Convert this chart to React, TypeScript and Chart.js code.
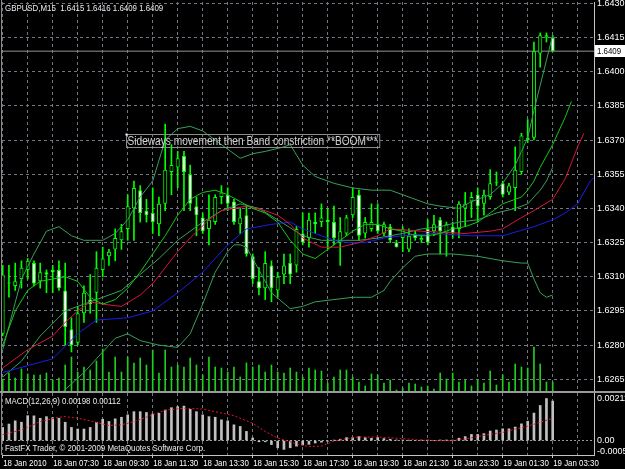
import React, { useEffect, useRef } from 'react';
import { Chart, registerables } from 'chart.js';

Chart.register(...registerables);

// ---------- data ----------
const timeLabels = ['18 Jan 2010', '18 Jan 07:30', '18 Jan 09:30', '18 Jan 11:30', '18 Jan 13:30', '18 Jan 15:30', '18 Jan 17:30', '18 Jan 19:30', '18 Jan 21:30', '18 Jan 23:30', '19 Jan 01:30', '19 Jan 03:30'];
const labelBars = [0, 8, 16, 24, 32, 40, 48, 56, 64, 72, 80, 88];
const gridBars = [0, 4, 8, 12, 16, 20, 24, 28, 32, 36, 40, 44, 48, 52, 56, 60, 64, 68, 72, 76, 80, 84, 88, 92];
const priceTicks = [1.6265, 1.628, 1.6295, 1.631, 1.6325, 1.634, 1.6355, 1.637, 1.6385, 1.64, 1.6415, 1.643];

const opens = [1.6285, 1.6307, 1.6306, 1.6309, 1.6313, 1.6316, 1.6308, 1.6312, 1.6313, 1.6313, 1.6304, 1.6287, 1.6281, 1.6294, 1.6300, 1.6303, 1.6313, 1.6319, 1.6322, 1.6326, 1.6331, 1.6340, 1.6348, 1.6339, 1.6338, 1.6333, 1.6342, 1.6356, 1.6358, 1.6363, 1.6355, 1.6341, 1.6336, 1.6331, 1.6334, 1.6345, 1.6346, 1.6343, 1.6333, 1.6337, 1.6319, 1.6308, 1.6305, 1.6315, 1.6304, 1.6311, 1.6316, 1.6315, 1.6329, 1.6327, 1.6334, 1.6334, 1.6335, 1.6334, 1.6325, 1.6329, 1.6337, 1.6346, 1.6329, 1.6331, 1.6333, 1.6329, 1.6332, 1.6325, 1.6327, 1.6322, 1.6329, 1.6326, 1.6331, 1.6330, 1.6335, 1.6329, 1.6332, 1.6331, 1.6340, 1.6343, 1.6346, 1.6342, 1.6345, 1.6351, 1.6351, 1.6347, 1.6349, 1.6356, 1.6371, 1.6371, 1.6408, 1.6415, 1.6415];
const highs = [1.6315, 1.6315, 1.6316, 1.6317, 1.6318, 1.6317, 1.6316, 1.6313, 1.6315, 1.6317, 1.6316, 1.6292, 1.6297, 1.6306, 1.6311, 1.6321, 1.6323, 1.6322, 1.6331, 1.6333, 1.6346, 1.6352, 1.6350, 1.6344, 1.6349, 1.6345, 1.6377, 1.6368, 1.6365, 1.6365, 1.6359, 1.6345, 1.6338, 1.6346, 1.6346, 1.6350, 1.6349, 1.6344, 1.6340, 1.6341, 1.6320, 1.6314, 1.6321, 1.6317, 1.6312, 1.6320, 1.6320, 1.6332, 1.6338, 1.6338, 1.6338, 1.6342, 1.6340, 1.6341, 1.6336, 1.6337, 1.6349, 1.6348, 1.6336, 1.6342, 1.6342, 1.6334, 1.6333, 1.6326, 1.6332, 1.6331, 1.6330, 1.6328, 1.6335, 1.6337, 1.6336, 1.6334, 1.6334, 1.6343, 1.6347, 1.6347, 1.6349, 1.6348, 1.6357, 1.6356, 1.6352, 1.6351, 1.6367, 1.6373, 1.6379, 1.6413, 1.6417, 1.6417, 1.6416];
const lows = [1.6284, 1.6301, 1.6304, 1.6305, 1.6309, 1.6306, 1.6305, 1.6303, 1.6303, 1.6304, 1.6280, 1.6277, 1.6280, 1.6290, 1.6294, 1.6290, 1.6310, 1.6315, 1.6317, 1.6322, 1.6326, 1.6326, 1.6334, 1.6334, 1.6329, 1.6328, 1.6339, 1.6346, 1.6349, 1.6339, 1.6339, 1.6328, 1.6329, 1.6324, 1.6333, 1.6342, 1.6339, 1.6333, 1.6329, 1.6319, 1.6307, 1.6302, 1.6300, 1.6299, 1.6301, 1.6307, 1.6307, 1.6312, 1.6324, 1.6323, 1.6329, 1.6332, 1.6322, 1.6324, 1.6315, 1.6328, 1.6336, 1.6326, 1.6327, 1.6330, 1.6329, 1.6328, 1.6325, 1.6323, 1.6321, 1.6321, 1.6326, 1.6325, 1.6324, 1.6328, 1.6320, 1.6319, 1.6327, 1.6327, 1.6332, 1.6336, 1.6334, 1.6337, 1.6344, 1.6350, 1.6345, 1.6346, 1.6339, 1.6355, 1.6369, 1.6370, 1.6402, 1.6413, 1.6409];
const closes = [1.6311, 1.6307, 1.6308, 1.6314, 1.6317, 1.6307, 1.6312, 1.6311, 1.6312, 1.6305, 1.6288, 1.6280, 1.6294, 1.6303, 1.6298, 1.6314, 1.6318, 1.6321, 1.6327, 1.6330, 1.6341, 1.6349, 1.6338, 1.6337, 1.6334, 1.6342, 1.6357, 1.6359, 1.6362, 1.6356, 1.6342, 1.6337, 1.6330, 1.6335, 1.6345, 1.6347, 1.6342, 1.6334, 1.6336, 1.6320, 1.6309, 1.6305, 1.6316, 1.6305, 1.6310, 1.6315, 1.6311, 1.6331, 1.6325, 1.6335, 1.6333, 1.6336, 1.6334, 1.6327, 1.6330, 1.6336, 1.6345, 1.6328, 1.6334, 1.6334, 1.6330, 1.6333, 1.6326, 1.6323, 1.6331, 1.6328, 1.6327, 1.6327, 1.6325, 1.6333, 1.6330, 1.6333, 1.6329, 1.6342, 1.6342, 1.6345, 1.6341, 1.6346, 1.6351, 1.6351, 1.6346, 1.6350, 1.6357, 1.6372, 1.6370, 1.6409, 1.6416, 1.6416, 1.6409];
const volumes = [120, 180, 130, 220, 170, 160, 160, 180, 110, 130, 260, 340, 190, 240, 210, 300, 420, 190, 340, 190, 340, 280, 330, 260, 410, 180, 410, 240, 260, 240, 330, 260, 160, 340, 240, 230, 190, 240, 140, 280, 240, 260, 190, 260, 190, 180, 230, 190, 140, 230, 210, 200, 80, 140, 210, 210, 140, 90, 50, 170, 160, 80, 110, 10, 30, 80, 70, 40, 50, 20, 180, 120, 180, 90, 110, 50, 110, 80, 200, 60, 160, 90, 270, 240, 230, 440, 270, 90, 90];

const bbUpperBars = [0, 3, 5, 7, 9, 11, 13, 16, 18, 20, 22, 24, 26, 28, 30, 32, 34, 36, 38, 40, 42, 45, 46, 48, 50, 53, 56, 59, 62, 65, 68, 70, 73, 75, 78, 80, 82, 83, 84, 85, 86, 87, 88];
const bbUpper = [1.6278, 1.6309, 1.6320, 1.6330, 1.6332, 1.6328, 1.6326, 1.6326, 1.6329, 1.6335, 1.6345, 1.6352, 1.6370, 1.6375, 1.6376, 1.6374, 1.6370, 1.6366, 1.6362, 1.6364, 1.6365, 1.6367, 1.6368, 1.6359, 1.6354, 1.6351, 1.6349, 1.6348, 1.6348, 1.6345, 1.6342, 1.6341, 1.6340, 1.6343, 1.6346, 1.6351, 1.6359, 1.6365, 1.6371, 1.6383, 1.6394, 1.6405, 1.6416];
const bbMiddleBars = [0, 3, 6, 10, 13, 16, 19, 22, 25, 28, 32, 35, 38, 41, 44, 48, 51, 54, 57, 60, 64, 67, 70, 73, 76, 79, 82, 84, 85, 86, 87, 88];
const bbMiddle = [1.6266, 1.6273, 1.6284, 1.6295, 1.6298, 1.6301, 1.6304, 1.6311, 1.6318, 1.6326, 1.6334, 1.6339, 1.6342, 1.6340, 1.6335, 1.6328, 1.6326, 1.6326, 1.6326, 1.6327, 1.6329, 1.6331, 1.6332, 1.6334, 1.6335, 1.6338, 1.6340, 1.6342, 1.6345, 1.6348, 1.6352, 1.6358];
const bbLowerBars = [6, 9, 13, 16, 18, 20, 22, 25, 28, 30, 32, 34, 36, 37, 38, 39, 41, 43, 46, 48, 50, 53, 56, 59, 61, 62, 64, 66, 68, 72, 76, 80, 83, 84, 85, 86, 87, 88];
const bbLower = [1.6240, 1.6258, 1.6268, 1.6277, 1.6283, 1.6285, 1.6282, 1.6280, 1.6279, 1.6285, 1.6298, 1.6312, 1.6321, 1.6324, 1.6324, 1.6323, 1.6313, 1.6303, 1.6296, 1.6297, 1.6299, 1.6300, 1.6301, 1.6301, 1.6304, 1.6308, 1.6314, 1.6319, 1.6320, 1.6320, 1.6319, 1.6317, 1.6316, 1.6316, 1.6309, 1.6303, 1.6301, 1.6302];

const lipsBars = [0, 2, 4, 6, 8, 10, 12, 14, 16, 18, 20, 22, 24, 26, 28, 30, 32, 34, 36, 38, 40, 42, 44, 46, 48, 50, 52, 54, 56, 58, 60, 62, 64, 66, 68, 70, 72, 74, 76, 78, 80, 82, 83, 84, 85, 86, 87, 88, 89, 90, 91];
const lips = [1.6280, 1.6295, 1.6304, 1.6308, 1.6309, 1.6310, 1.6308, 1.6301, 1.6298, 1.6300, 1.6305, 1.6312, 1.6320, 1.6328, 1.6337, 1.6344, 1.6347, 1.6348, 1.6346, 1.6343, 1.6340, 1.6338, 1.6334, 1.6326, 1.6320, 1.6318, 1.6322, 1.6326, 1.6330, 1.6333, 1.6333, 1.6331, 1.6330, 1.6328, 1.6328, 1.6329, 1.6331, 1.6332, 1.6334, 1.6338, 1.6342, 1.6344, 1.6345, 1.6348, 1.6352, 1.6358, 1.6363, 1.6368, 1.6374, 1.6380, 1.6387];
const teethBars = [0, 4, 8, 10, 12, 14, 16, 19, 22, 24, 26, 28, 30, 33, 35, 39, 42, 44, 46, 48, 51, 54, 57, 60, 62, 67, 74, 78, 80, 83, 85, 88, 90, 91, 92, 93];
const teeth = [1.6270, 1.6278, 1.6284, 1.6290, 1.6295, 1.6299, 1.6298, 1.6297, 1.6302, 1.6307, 1.6314, 1.6321, 1.6327, 1.6335, 1.6339, 1.6341, 1.6339, 1.6337, 1.6333, 1.6327, 1.6323, 1.6323, 1.6325, 1.6328, 1.6331, 1.6330, 1.6329, 1.6330, 1.6331, 1.6336, 1.6339, 1.6344, 1.6353, 1.6360, 1.6367, 1.6373];
const jawBars = [0, 4, 8, 12, 15, 20, 24, 28, 32, 36, 39, 43, 46, 48, 50, 53, 55, 58, 61, 64, 69, 75, 80, 85, 88, 90, 92, 94, 96];
const jaw = [1.6268, 1.6271, 1.6274, 1.6285, 1.6291, 1.6292, 1.6295, 1.6303, 1.6312, 1.6324, 1.6331, 1.6333, 1.6334, 1.6331, 1.6329, 1.6326, 1.6325, 1.6325, 1.6327, 1.6328, 1.6329, 1.6328, 1.6328, 1.6332, 1.6335, 1.6338, 1.6342, 1.6352, 1.6357];

const bidPrice = 1.6409;

const macdMain = [0.00066, 0.00083, 0.00099, 0.00092, 0.00125, 0.00124, 0.00112, 0.0012, 0.00115, 0.00112, 0.00092, 0.00066, 0.00058, 0.00058, 0.00066, 0.00092, 0.00107, 0.00096, 0.00109, 0.00117, 0.00129, 0.00145, 0.00145, 0.00141, 0.00133, 0.00137, 0.00153, 0.00165, 0.0017, 0.00173, 0.00157, 0.00145, 0.00129, 0.0012, 0.00117, 0.00104, 0.00099, 0.00079, 0.00071, 0.00046, 0.00013, -0.00006, -0.00006, -0.0002, -0.00036, -0.00044, -0.00036, -0.00028, -0.00022, -0.00019, -0.00012, -0.00008, -0.00003, 0.00002, 0.00007, 0.00015, 0.00015, 0.0002, 0.00015, 0.00012, 0.00015, 0.0001, 0.00007, 0.00003, 0.00003, 0.0, 0.0, 0.00002, 0.00002, 0.0, 0.00003, 0.00003, 0.00002, 0.00012, 0.0002, 0.00031, 0.00031, 0.00035, 0.00048, 0.00053, 0.00059, 0.00059, 0.00068, 0.00084, 0.00097, 0.00138, 0.00176, 0.00211, 0.00198];
const signalBars = [0, 3, 6, 9, 10, 12, 14, 16, 17, 19, 21, 24, 26, 29, 32, 34, 37, 40, 42, 44, 47, 49, 51, 53, 55, 57, 60, 64, 67, 70, 72, 74, 77, 80, 82, 84, 86, 88];
const signal = [0.0003, 0.00054, 0.00095, 0.00117, 0.0012, 0.00112, 0.00099, 0.00083, 0.00076, 0.00079, 0.00095, 0.00129, 0.00153, 0.00162, 0.00158, 0.00145, 0.00125, 0.00087, 0.00046, 0.00013, -0.00016, -0.0003, -0.00028, -0.00003, 0.0001, 0.00018, 0.00018, 0.0001, 0.00002, 0.0, 0.0, 0.00008, 0.00026, 0.00041, 0.00058, 0.00072, 0.00092, 0.00112];
const macdTicks = [0.00211, 0, -0.00056];
const macdTickLabels = ['0.00211', '0.00', '-0.00056'];

const headerText = 'GBPUSD,M15  1.6415 1.6416 1.6409 1.6409';
const noteText = 'Sideways movement then Band constriction **BOOM***';
const noteBar = 19.73;
const notePrice = 1.63726;
const macdTitle = 'MACD(12,26,9) 0.00198 0.00112';
const copyright = 'FastFX Trader, \u00A9 2001-2009 MetaQuotes Software Corp.';

// ---------- style / layout ----------
const FONT = "'Liberation Sans', Arial, sans-serif";
const GRID = '#6f7882';
const AXIS = '#c4c4c4';
const LIME = '#00ff00';
const X_MIN = -0.112;
const X_MAX = 94.608;
const Y_MIN = 1.625988;
const Y_MAX = 1.643057;
const M_MIN = -0.000722;
const M_MAX = 0.002386;
const SQUEEZE = 0.83;

const pts = (xs: number[], ys: number[]) => xs.map((x, k) => ({ x, y: ys[k] }));

const lineDs = (label: string, xs: number[], ys: number[], color: string, order: number) => ({
  type: 'line',
  label,
  data: pts(xs, ys),
  borderColor: color,
  borderWidth: 1,
  pointRadius: 0,
  tension: 0,
  order,
  yAxisID: 'y',
});

// narrow text (the original uses a condensed UI font)
const narrowText = (ctx: any, text: string, x: number, y: number, size: number, color: string, sx = SQUEEZE) => {
  ctx.save();
  ctx.font = `${size}px ${FONT}`;
  ctx.fillStyle = color;
  ctx.textBaseline = 'middle';
  ctx.textAlign = 'left';
  ctx.translate(x, y);
  ctx.scale(sx, 1);
  ctx.fillText(text, 0, 0);
  const w = ctx.measureText(text).width * sx;
  ctx.restore();
  return w;
};

const xScaleBase = (height: number, withTicks: boolean) => ({
  type: 'linear',
  min: X_MIN,
  max: X_MAX,
  offset: false,
  afterBuildTicks: (s: any) => {
    s.ticks = gridBars.map((v) => ({ value: v }));
  },
  afterFit: (s: any) => {
    s.height = height;
    s.paddingLeft = 0;
    s.paddingRight = 0;
  },
  ticks: { display: false },
  grid: withTicks
    ? {
        offset: false,
        color: GRID,
        drawTicks: true,
        tickLength: 3,
        tickColor: (ctx: any) => (ctx.tick && labelBars.includes(ctx.tick.value) ? AXIS : 'rgba(0,0,0,0)'),
      }
    : { offset: false, color: GRID, drawTicks: false },
  border: { display: withTicks, color: AXIS, dash: [3, 3] },
});

const mainOverlay = {
  id: 'mainOverlay',
  afterDraw(chart: any) {
    const { ctx, chartArea, scales } = chart;
    ctx.save();
    ctx.fillStyle = '#8a8a8a';
    ctx.fillRect(chartArea.left - 1, 0, 1, chart.height);
    ctx.restore();
    narrowText(ctx, headerText, 5, 8, 9.5, '#ececec');
    // note
    const nx = Math.round(scales.x.getPixelForValue(noteBar)) + 0.5;
    const ny = Math.round(scales.y.getPixelForValue(notePrice)) + 0.5;
    ctx.save();
    ctx.font = `12px ${FONT}`;
    const tw = ctx.measureText(noteText).width * 0.845;
    ctx.strokeStyle = '#8c8c8c';
    ctx.lineWidth = 1;
    ctx.strokeRect(nx, ny, tw + 3, 13);
    ctx.fillStyle = '#ffffff';
    ctx.fillRect(nx - 1, ny - 1, 2, 2);
    ctx.restore();
    narrowText(ctx, noteText, nx + 1, ny + 7, 12, '#cfcfcf', 0.845);
    // bid label
    const by = Math.round(scales.y.getPixelForValue(bidPrice));
    ctx.save();
    ctx.fillStyle = '#ffffff';
    ctx.fillRect(chartArea.right + 1, by - 6, 30, 12);
    ctx.restore();
    narrowText(ctx, bidPrice.toFixed(4), chartArea.right + 3, by + 0.5, 9.5, '#000000', 0.83);
  },
};

const macdOverlay = {
  id: 'macdOverlay',
  afterDraw(chart: any) {
    const { ctx, chartArea, scales } = chart;
    ctx.save();
    ctx.fillStyle = '#9a9a9a';
    ctx.fillRect(0, 0, chart.width, 2);
    ctx.fillStyle = '#8a8a8a';
    ctx.fillRect(chartArea.left - 1, 2, 1, chartArea.bottom - 2);
    ctx.restore();
    narrowText(ctx, macdTitle, 5, 10, 9.5, '#ececec');
    narrowText(ctx, copyright, 5, 57.5, 9.5, '#ececec');
    labelBars.forEach((b, k) => {
      const x = scales.x.getPixelForValue(b);
      narrowText(ctx, timeLabels[k], x + 0.5, chartArea.bottom + 8, 9.5, '#ffffff');
    });
  },
};

export default function App() {
  const mainRef = useRef<HTMLCanvasElement>(null);
  const macdRef = useRef<HTMLCanvasElement>(null);

  useEffect(() => {
    const mainChart = new Chart(mainRef.current as HTMLCanvasElement, {
      type: 'bar',
      data: {
        datasets: [
          {
            type: 'bar',
            label: 'Volume',
            data: volumes.map((v, i) => ({ x: i, y: v })),
            yAxisID: 'yv',
            backgroundColor: '#1fcf1f',
            borderWidth: 0,
            grouped: false,
            barThickness: 1,
            maxBarThickness: 1,
            order: 20,
          },
          {
            type: 'line',
            label: 'Bid',
            data: [
              { x: -1, y: bidPrice },
              { x: 96, y: bidPrice },
            ],
            borderColor: '#909090',
            borderWidth: 1,
            pointRadius: 0,
            yAxisID: 'y',
            order: 19,
          },
          {
            type: 'bar',
            label: 'Wick',
            data: lows.map((l, i) => ({ x: i, y: [l, highs[i]] })),
            yAxisID: 'y',
            backgroundColor: LIME,
            borderWidth: 0,
            grouped: false,
            barThickness: 1,
            maxBarThickness: 1,
            order: 12,
          },
          {
            type: 'bar',
            label: 'Body',
            data: opens.map((o, i) => ({ x: i, y: [o, closes[i]] })),
            yAxisID: 'y',
            backgroundColor: (c: any) => (closes[c.dataIndex] < opens[c.dataIndex] ? '#ffffff' : '#000000'),
            borderColor: LIME,
            borderWidth: 1,
            borderSkipped: false,
            inflateAmount: 0,
            minBarLength: 1,
            grouped: false,
            barThickness: 4,
            maxBarThickness: 4,
            order: 11,
          },
          lineDs('BB upper', bbUpperBars, bbUpper, '#37a05a', 5),
          lineDs('BB middle', bbMiddleBars, bbMiddle, '#37a05a', 5),
          lineDs('BB lower', bbLowerBars, bbLower, '#37a05a', 5),
          lineDs('Jaw', jawBars, jaw, '#1c1ce8', 4),
          lineDs('Teeth', teethBars, teeth, '#dc143c', 3),
          lineDs('Lips', lipsBars, lips, '#14c814', 2),
        ] as any,
      },
      options: {
        responsive: false,
        maintainAspectRatio: false,
        animation: false,
        events: [],
        layout: { padding: { left: 2, top: 2, right: 0, bottom: 0 } },
        plugins: { legend: { display: false }, tooltip: { enabled: false } },
        scales: {
          x: xScaleBase(0, false) as any,
          y: {
            type: 'linear',
            position: 'right',
            min: Y_MIN,
            max: Y_MAX,
            beginAtZero: false,
            afterBuildTicks: (s: any) => {
              s.ticks = priceTicks.map((v) => ({ value: v }));
            },
            afterFit: (s: any) => {
              s.width = 31;
              s.paddingTop = 0;
              s.paddingBottom = 0;
            },
            ticks: {
              color: '#ffffff',
              font: { family: FONT, size: 9 },
              padding: 3,
              autoSkip: false,
              callback: (v: any) => Number(v).toFixed(4),
            },
            grid: { color: GRID, drawTicks: false },
            border: { display: true, color: AXIS, dash: [3, 3] },
          },
          yv: { type: 'linear', display: false, min: 0, max: 3890 },
        } as any,
      },
      plugins: [mainOverlay],
    } as any);

    const macdChart = new Chart(macdRef.current as HTMLCanvasElement, {
      type: 'bar',
      data: {
        datasets: [
          {
            type: 'bar',
            label: 'MACD',
            data: macdMain.map((v, i) => ({ x: i, y: v })),
            backgroundColor: '#c0c0c0',
            borderWidth: 0,
            grouped: false,
            barThickness: 2,
            maxBarThickness: 2,
            order: 5,
          },
          {
            type: 'line',
            label: 'Signal',
            data: pts(signalBars, signal),
            borderColor: '#e8102e',
            borderWidth: 1,
            borderDash: [2, 2],
            pointRadius: 0,
            tension: 0,
            order: 1,
          },
        ] as any,
      },
      options: {
        responsive: false,
        maintainAspectRatio: false,
        animation: false,
        events: [],
        layout: { padding: { left: 2, top: 2, right: 0, bottom: 0 } },
        plugins: { legend: { display: false }, tooltip: { enabled: false } },
        scales: {
          x: xScaleBase(14, true) as any,
          y: {
            type: 'linear',
            position: 'right',
            min: M_MIN,
            max: M_MAX,
            beginAtZero: false,
            afterBuildTicks: (s: any) => {
              s.ticks = macdTicks.map((v) => ({ value: v }));
            },
            afterFit: (s: any) => {
              s.width = 31;
              s.paddingTop = 0;
              s.paddingBottom = 0;
            },
            ticks: {
              color: '#ffffff',
              font: { family: FONT, size: 9 },
              padding: 3,
              autoSkip: false,
              callback: (v: any) => {
                const k = macdTicks.indexOf(Number(v));
                return k >= 0 ? macdTickLabels[k] : '';
              },
            },
            grid: {
              drawTicks: false,
              color: (c: any) => (c.tick && c.tick.value === 0 ? '#9a9a9a' : 'rgba(0,0,0,0)'),
            },
            border: { display: true, color: AXIS, dash: [2, 2] },
          },
        } as any,
      },
      plugins: [macdOverlay],
    } as any);

    return () => {
      mainChart.destroy();
      macdChart.destroy();
    };
  }, []);

  return (
    <div style={{ position: 'fixed', left: 0, top: 0, width: 625, height: 469, background: '#000000', overflow: 'hidden' }}>
      <canvas ref={mainRef} width={625} height={391} style={{ position: 'absolute', left: 0, top: 0, width: 625, height: 391 }} />
      <canvas ref={macdRef} width={625} height={78} style={{ position: 'absolute', left: 0, top: 391, width: 625, height: 78 }} />
    </div>
  );
}
